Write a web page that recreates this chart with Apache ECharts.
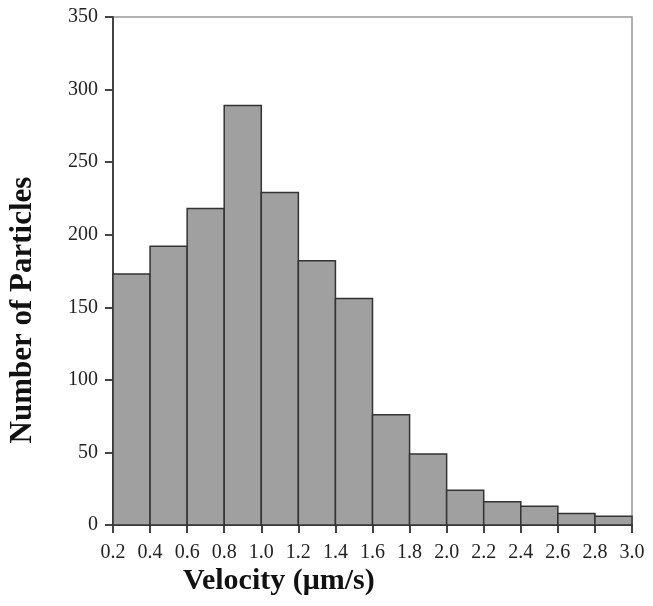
<!DOCTYPE html>
<html>
<head>
<meta charset="utf-8">
<script src="https://cdn.jsdelivr.net/npm/echarts@6/dist/echarts.min.js"></script>
<style>html,body{margin:0;padding:0;background:#fff}#c{width:653px;height:606px}</style>
</head>
<body>
<div id="c"></div>
<script>
var binStarts = [0.2,0.4,0.6,0.8,1.0,1.2,1.4,1.6,1.8,2.0,2.2,2.4,2.6,2.8];
var binEnds   = [0.4,0.6,0.8,1.0,1.2,1.4,1.6,1.8,2.0,2.2,2.4,2.6,2.8,3.0];
var counts    = [173,192,218,289,229,182,156,76,49,24,16,13,8,6];
var xTitle = 'Velocity (\u03bcm/s)';
var yTitle = 'Number of Particles';

var data = counts.map(function(v,i){ return [binStarts[i], binEnds[i], v]; });
var chart = echarts.init(document.getElementById('c'));
var font = 'Liberation Serif';
chart.setOption({
  animation:false,
  backgroundColor:'#fff',
  grid:{left:113,top:17,right:21,bottom:81,show:true,borderColor:'#999',borderWidth:1.5},
  xAxis:{type:'value',min:0.2,max:3.0,interval:0.2,
    axisLine:{show:true,onZero:false,lineStyle:{color:'#444',width:2}},
    axisTick:{show:true,length:8,lineStyle:{color:'#444',width:2}},
    axisLabel:{color:'#222',fontFamily:font,fontSize:20,margin:18,
      formatter:function(v){return v.toFixed(1);}},
    splitLine:{show:false}},
  yAxis:{type:'value',min:0,max:350,interval:50,
    axisLine:{show:true,lineStyle:{color:'#444',width:2}},
    axisTick:{show:true,length:8,lineStyle:{color:'#444',width:2}},
    axisLabel:{color:'#222',fontFamily:font,fontSize:20,margin:15},
    splitLine:{show:false}},
  graphic:[
    {type:'text',left:183,top:566,style:{text:xTitle,font:'bold 30px "Liberation Serif"',fill:'#111'}},
    {type:'text',x:7,y:310,rotation:Math.PI/2,style:{text:yTitle,font:'bold 31px "Liberation Serif"',fill:'#111',align:'center',verticalAlign:'top'}}
  ],
  series:[{
    type:'custom',
    data:data,
    encode:{x:[0,1],y:2},
    renderItem:function(params,api){
      var p0 = api.coord([api.value(0), api.value(2)]);
      var p1 = api.coord([api.value(1), 0]);
      return {type:'rect',shape:{x:p0[0],y:p0[1],width:p1[0]-p0[0],height:p1[1]-p0[1]},
        style:{fill:'#a0a0a0',stroke:'#333',lineWidth:1.5}};
    }
  }]
});
</script>
</body>
</html>
